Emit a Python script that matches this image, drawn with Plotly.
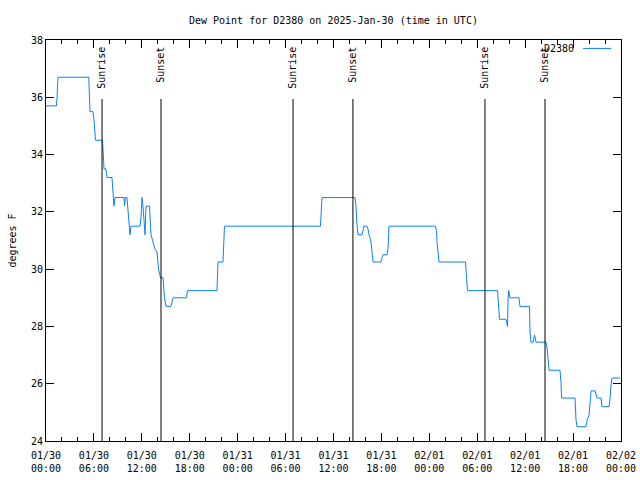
import pandas as pd
import plotly.graph_objects as go

# Dew point series: hours since 2025-01-30 00:00 UTC and degrees F
hours_utc = [0.0, 1.31, 1.38, 1.50, 5.35, 5.42, 5.51, 5.88, 6.01, 6.20, 7.07, 7.14, 7.20, 7.26,
             7.51, 7.64, 8.26, 8.39, 8.51, 8.64, 9.77, 9.83, 9.95, 10.14, 10.39, 10.52, 10.64,
             11.77, 11.90, 12.02, 12.15, 12.27, 12.40, 12.52, 12.96, 13.09, 13.15, 13.40, 13.65,
             13.90, 14.09, 14.34, 14.65, 14.84, 15.03, 15.65, 15.78, 15.90, 17.59, 17.72, 21.41,
             21.54, 22.16, 22.23, 22.35, 34.37, 34.44, 34.56, 38.69, 38.82, 38.94, 39.07, 39.57,
             39.69, 39.82, 40.19, 40.32, 40.45, 40.70, 40.95, 41.95, 42.07, 42.20, 42.70, 42.82,
             42.95, 48.77, 48.90, 48.96, 49.21, 52.53, 52.59, 52.72, 52.78, 56.54, 56.60, 56.73,
             56.79, 57.61, 57.73, 57.79, 57.85, 57.94, 58.10, 59.23, 59.35, 60.54, 60.61, 60.73,
             60.98, 61.17, 61.36, 62.61, 62.74, 62.86, 62.99, 64.36, 64.49, 64.55, 66.24, 66.37,
             66.49, 67.62, 67.75, 68.00, 68.12, 68.25, 68.75, 68.87, 69.00, 69.50, 69.62, 70.50,
             70.63, 70.75, 70.88, 71.88]
dew_point_f = [35.7, 35.7, 36.0, 36.7, 36.7, 35.8, 35.5, 35.5, 35.2, 34.5, 34.5, 34.2, 33.7, 33.5,
               33.5, 33.2, 33.2, 32.5, 32.2, 32.5, 32.5, 32.2, 32.5, 32.5, 31.5, 31.2, 31.5,
               31.5, 31.8, 32.5, 32.2, 31.8, 31.2, 32.2, 32.2, 31.5, 31.2, 30.95, 30.7,
               30.6, 30.0, 29.7, 29.7, 29.0, 28.7, 28.7, 28.85, 29.0, 29.0, 29.25, 29.25,
               30.25, 30.25, 30.6, 31.5, 31.5, 31.75, 32.5, 32.5, 32.2, 31.55, 31.2, 31.2,
               31.4, 31.5, 31.5, 31.4, 31.2, 30.95, 30.25, 30.25, 30.4, 30.5, 30.5, 30.7,
               31.5, 31.5, 31.35, 30.95, 30.25, 30.25, 29.97, 29.55, 29.25, 29.25, 29.0, 28.5,
               28.25, 28.25, 28.1, 28.0, 28.9, 29.25, 29.0, 29.0, 28.7, 28.7, 27.8, 27.45,
               27.45, 27.7, 27.45, 27.45, 27.25, 26.9, 26.47, 26.47, 26.05, 25.5, 25.5, 24.73,
               24.5, 24.5, 24.73, 24.9, 25.3, 25.75, 25.75, 25.57, 25.5, 25.5, 25.2, 25.2,
               25.47, 25.95, 26.2, 26.2]

sun_labels = ["Sunrise", "Sunset", "Sunrise", "Sunset", "Sunrise", "Sunset"]
sun_times = ["2025-01-30 07:01", "2025-01-30 14:24", "2025-01-31 06:56",
             "2025-01-31 14:26", "2025-02-01 06:58", "2025-02-01 14:29"]

series_name = "D2380"
title_text = "Dew Point for D2380 on 2025-Jan-30 (time in UTC)"
y_label = "degrees F"

start = pd.Timestamp("2025-01-30 00:00")
times = [start + pd.Timedelta(hours=h) for h in hours_utc]

FONT = "DejaVu Sans Mono"
LINE_COLOR = "#0a80ff"

fig = go.Figure()
fig.add_trace(go.Scatter(x=times, y=dew_point_f, mode="lines", name=series_name,
                         line=dict(color=LINE_COLOR, width=1), showlegend=False))

shapes = []
annotations = []
for lab, t in zip(sun_labels, sun_times):
    shapes.append(dict(type="line", xref="x", yref="y", x0=t, x1=t, y0=24, y1=35.94,
                       line=dict(color="black", width=1)))
    annotations.append(dict(text=lab, x=t, xref="x", y=0.988, yref="paper",
                            xanchor="center", yanchor="top", textangle=-90, showarrow=False,
                            font=dict(family=FONT, size=10, color="black")))

# legend (text left, line sample right, gnuplot style)
annotations.append(dict(text=series_name, x=0.922, xref="paper", y=0.978, yref="paper",
                        xanchor="right", yanchor="middle", showarrow=False,
                        font=dict(family=FONT, size=10, color="black")))
shapes.append(dict(type="line", xref="paper", yref="paper", x0=0.934, x1=0.983,
                   y0=0.979, y1=0.979, line=dict(color=LINE_COLOR, width=1)))

fig.update_layout(
    width=640, height=480,
    margin=dict(l=46, r=19, t=40, b=39, autoexpand=False),
    paper_bgcolor="white", plot_bgcolor="white",
    font=dict(family=FONT, size=10, color="black"),
    title=dict(text=title_text, x=0.521, xanchor="center", y=0.958, yanchor="middle",
               font=dict(family=FONT, size=10, color="black")),
    shapes=shapes, annotations=annotations,
    xaxis=dict(range=["2025-01-30 00:00", "2025-02-02 00:00"], type="date",
               dtick=6 * 3600 * 1000, tick0="2025-01-30 00:00", automargin=False,
               tickformat="%m/%d<br>%H:%M", ticks="inside", ticklen=8, tickcolor="black",
               ticklabelstandoff=5,
               showline=True, linecolor="black", linewidth=1, mirror="ticks",
               showgrid=False, zeroline=False,
               minor=dict(dtick=2 * 3600 * 1000, ticks="inside", ticklen=4, tickcolor="black",
                          showgrid=False)),
    yaxis=dict(range=[24, 38], dtick=2, ticks="inside", ticklen=8, tickcolor="black",
               showline=True, linecolor="black", linewidth=1, mirror="ticks",
               showgrid=False, zeroline=False, automargin=False,
               title=dict(text=y_label, standoff=12, font=dict(family=FONT, size=10))),
)

fig.write_html("out.html")
